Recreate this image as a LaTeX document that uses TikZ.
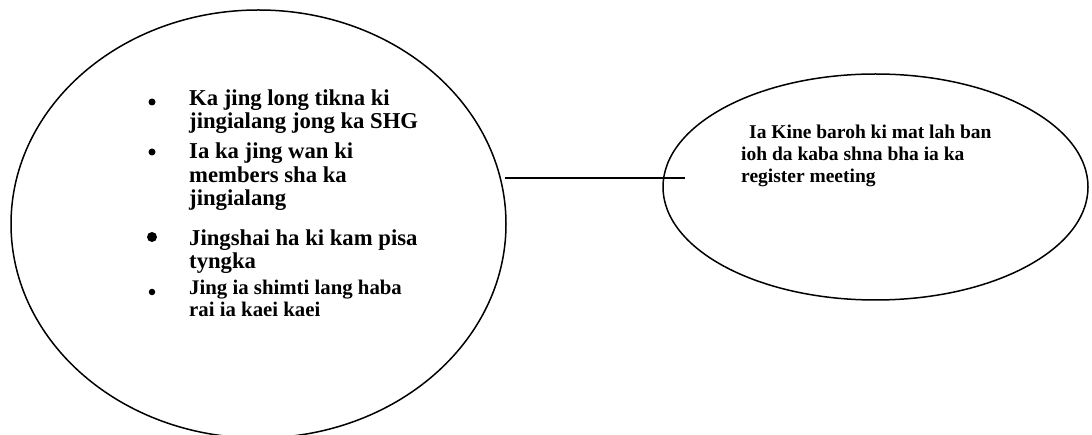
\documentclass[tikz,border=0pt]{standalone}
\usepackage{fontspec}
\setmainfont{Liberation Serif}
\usetikzlibrary{shapes.geometric}
\tikzset{
  bubble/.style={draw=black, line width=1.5pt, ellipse, inner sep=0pt},
  big/.style={anchor=base west, inner sep=0pt, font=\fontsize{22.7}{23}\selectfont\bfseries},
  small/.style={anchor=base west, inner sep=0pt, font=\fontsize{20.8}{22}\selectfont\bfseries},
  rtext/.style={anchor=base west, inner sep=0pt, font=\fontsize{19.5}{22}\selectfont\bfseries},
  dot/.style={circle, fill=black, inner sep=0pt, minimum size=#1},
  link/.style={draw=black, line width=2pt}
}
\begin{document}
\begin{tikzpicture}[x=1pt, y=-1pt]
\useasboundingbox (0,0) rectangle (1092,435);
\clip (0,0) rectangle (1092,435);
% ellipses
\node[bubble, minimum width=495pt, minimum height=428pt] (L) at (258.5,224) {};
\node[bubble, minimum width=425pt, minimum height=226pt] (R) at (875.5,187) {};
% connector
\coordinate (la) at (505,178);
\coordinate (ra) at (685,178);
\draw[link] (la) -- (ra);
% bullets
\node[dot=7pt] (b1) at (152,102) {};
\node[dot=7pt] (b2) at (152,152) {};
\node[dot=10pt] (b3) at (152,237) {};
\node[dot=6.5pt] (b4) at (152,292) {};
% left texts
\node[big] (t1a) at (189,106) {Ka jing long tikna ki};
\node[big] (t1b) at (189,129) {jingialang jong ka SHG};
\node[big] (t2a) at (189,159) {Ia ka jing wan ki};
\node[big] (t2b) at (189,183) {members sha ka};
\node[big] (t2c) at (189,206) {jingialang};
\node[big] (t3a) at (189,246) {Jingshai ha ki kam pisa};
\node[big] (t3b) at (189,269) {tyngka};
\node[small] (t4a) at (189,295) {Jing ia shimti lang haba};
\node[small] (t4b) at (189,317) {rai ia kaei kaei};
% right texts
\node[rtext] (r1) at (749,139) {Ia Kine baroh ki mat lah ban};
\node[rtext] (r2) at (741,161) {ioh da kaba shna bha ia ka};
\node[rtext] (r3) at (741,183) {register meeting};
\end{tikzpicture}
\end{document}
